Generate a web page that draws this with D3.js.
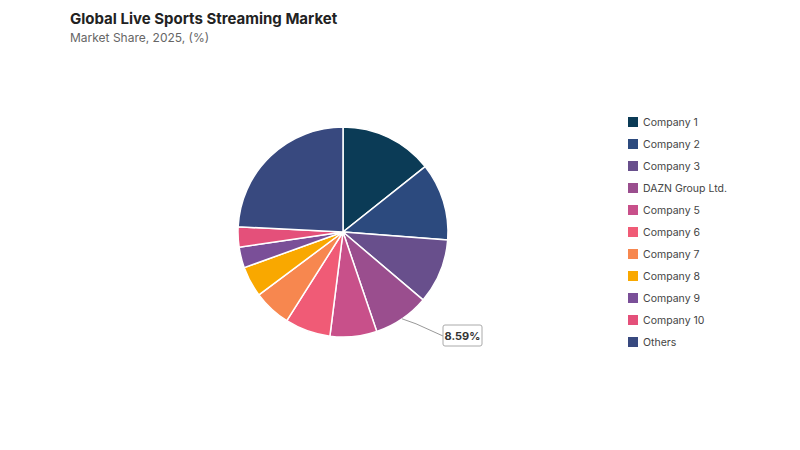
<!DOCTYPE html>
<html><head><meta charset="utf-8">
<script src="https://cdn.jsdelivr.net/npm/d3@7"></script>
<style>body{margin:0;background:#fff;font-family:Inter,"Noto Sans",sans-serif}</style>
</head><body><svg id="c" width="800" height="450"></svg>
<script>
const categories=["Company 1","Company 2","Company 3","DAZN Group Ltd.","Company 5","Company 6","Company 7","Company 8","Company 9","Company 10","Others"];
const values=[14.3,11.9,10.0,8.59,7.2,7.0,5.8,4.7,3.2,3.1,24.21];
const colors=["#0b3b56","#2c4a7e","#684f8c","#9a4e8e","#c8508a","#f05b76","#f7874f","#f9a800","#7a4f98","#e4507a","#38497f"];
const svg=d3.select("#c");
svg.append("text").attr("x",70).attr("y",24).attr("font-size",15).attr("font-weight",700).attr("fill","#222").text("Global Live Sports Streaming Market");
svg.append("text").attr("x",70).attr("y",42).attr("font-size",12).attr("fill","#666").text("Market Share, 2025, (%)");
const cx=343,cy=232,r=105;
const pie=d3.pie().sort(null)(values);
const arc=d3.arc().innerRadius(0).outerRadius(r);
const g=svg.append("g").attr("transform",`translate(${cx},${cy})`);
g.selectAll("path").data(pie).join("path").attr("d",arc).attr("fill",(d,i)=>colors[i]).attr("stroke","#fff").attr("stroke-width",1.5);
// label for DAZN
const d=pie[3];const a=(d.startAngle+d.endAngle)/2;
const p=[Math.sin(a)*r,-Math.cos(a)*r];
const lx=cx+p[0],ly=cy+p[1];
svg.append("polyline").attr("points",`${lx},${ly} ${lx+14},${ly+1+4} ${443},${336}`).attr("fill","none").attr("stroke","#999");
svg.append("rect").attr("x",443).attr("y",325).attr("width",39).attr("height",21).attr("rx",2).attr("fill","#fff").attr("stroke","#aaa");
svg.append("text").attr("x",462.5).attr("y",339.5).attr("text-anchor","middle").attr("font-size",11).attr("font-weight",700).attr("fill","#333").text(values[3].toFixed(2)+"%");
const lg=svg.append("g");
categories.forEach((c,i)=>{
 const y=122+i*22;
 lg.append("rect").attr("x",628).attr("y",y-5).attr("width",10).attr("height",10).attr("fill",colors[i]);
 lg.append("text").attr("x",643).attr("y",y+4).attr("font-size",10.5).attr("fill","#444").text(c);
});
</script></body></html>
